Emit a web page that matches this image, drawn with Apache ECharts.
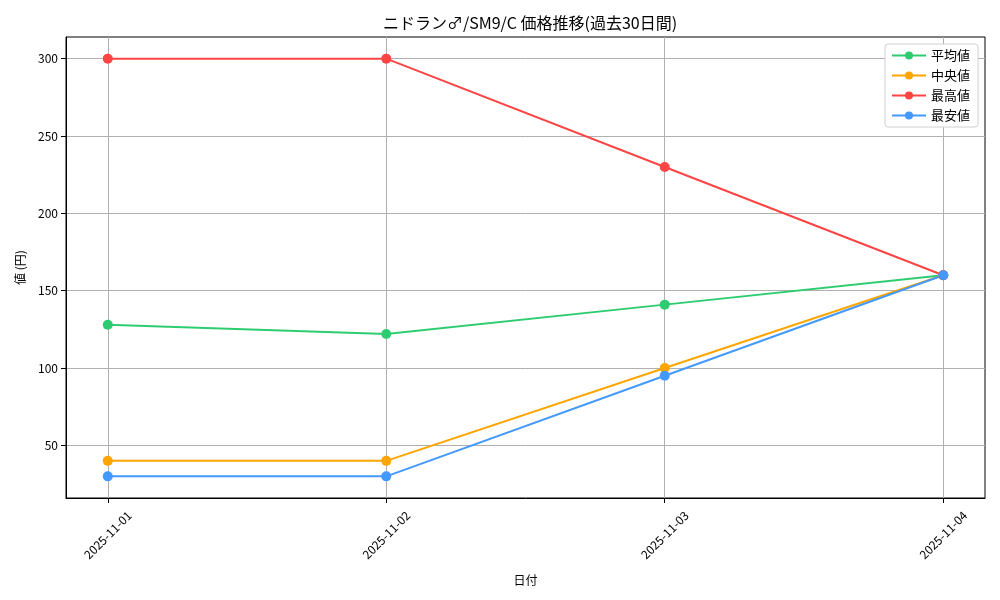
<!DOCTYPE html>
<html>
<head>
<meta charset="utf-8">
<script src="https://cdn.jsdelivr.net/npm/echarts@6/dist/echarts.min.js"></script>
<style>
  html, body { margin: 0; padding: 0; background: #fff; }
  #chart { width: 1000px; height: 600px; }
</style>
</head>
<body>
<div id="chart"></div>
<script>
const dates = ["2025-11-01", "2025-11-02", "2025-11-03", "2025-11-04"];
const avgPrice = [128, 122, 141, 160];
const medianPrice = [40, 40, 100, 160];
const maxPrice = [300, 300, 230, 160];
const minPrice = [30, 30, 95, 160];
const yTicks = [50, 100, 150, 200, 250, 300];

const font = "'Noto Sans CJK JP', 'DejaVu Sans', sans-serif";
const xIdx = dates.map((d, i) => i);
const toPts = arr => arr.map((v, i) => [i, v]);

function line(name, color, values) {
  return {
    name: name,
    type: "line",
    data: toPts(values),
    symbol: "circle",
    symbolSize: 10,
    itemStyle: { color: color },
    lineStyle: { color: color, width: 2 },
    emphasis: { disabled: true }
  };
}

const chart = echarts.init(document.getElementById("chart"));
chart.setOption({
  animation: false,
  textStyle: { fontFamily: font },
  title: {
    text: "ニドラン♂/SM9/C 価格推移(過去30日間)",
    left: 525,
    textAlign: "center",
    top: 10,
    textStyle: { fontSize: 16, fontWeight: "normal", color: "#000", fontFamily: font }
  },
  legend: {
    orient: "vertical",
    right: 22,
    top: 44,
    itemWidth: 34,
    itemHeight: 10,
    itemGap: 7,
    padding: [5, 8, 5, 6],
    borderColor: "#d0d0d0",
    borderWidth: 1,
    borderRadius: 3,
    backgroundColor: "#fff",
    textStyle: { fontSize: 13, color: "#000", fontFamily: font },
    data: ["平均値", "中央値", "最高値", "最安値"]
  },
  grid: {
    left: 66, right: 15, top: 37, bottom: 102,
    show: true, borderColor: "#000", borderWidth: 1, backgroundColor: "transparent"
  },
  xAxis: {
    type: "value",
    min: -0.15,
    max: 3.15,
    name: "日付",
    nameLocation: "middle",
    nameGap: 76,
    nameTextStyle: { fontSize: 12, color: "#000" },
    axisLine: { show: true, onZero: false, lineStyle: { color: "#000", width: 1 } },
    axisTick: { show: true, customValues: xIdx, length: 5, lineStyle: { color: "#000" } },
    axisLabel: {
      customValues: xIdx,
      rotate: 45,
      align: "center",
      verticalAlign: "middle",
      fontSize: 12,
      color: "#000",
      margin: 37,
      formatter: v => dates[Math.round(v)]
    },
    splitLine: { show: true, lineStyle: { color: "#b0b0b0", width: 1 } }
  },
  yAxis: {
    type: "value",
    min: 16,
    max: 314,
    name: "値 (円)",
    nameLocation: "middle",
    nameGap: 40,
    nameTextStyle: { fontSize: 12, color: "#000" },
    axisLine: { show: true, onZero: false, lineStyle: { color: "#000", width: 1 } },
    axisTick: { show: true, customValues: yTicks, length: 5, lineStyle: { color: "#000" } },
    axisLabel: { customValues: yTicks, fontSize: 12, color: "#000", margin: 8 },
    splitLine: { show: true, lineStyle: { color: "#b0b0b0", width: 1 } }
  },
  series: [
    line("平均値", "#2ecc71", avgPrice),
    line("中央値", "#ffa500", medianPrice),
    line("最高値", "#ff4444", maxPrice),
    line("最安値", "#4499ff", minPrice)
  ]
});
</script>
</body>
</html>
